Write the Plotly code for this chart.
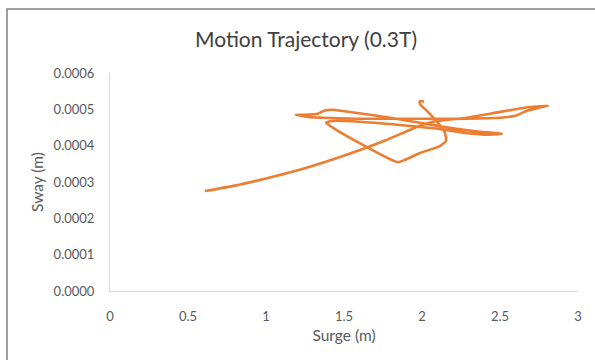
import plotly.graph_objects as go

# Surge / sway trajectory of the model at 0.3T (metres)
surge = [
    0.609, 0.801, 0.994, 1.186, 1.378, 1.571, 1.763, 1.987, 2.071, 2.288,
    2.500, 2.609, 2.712, 2.808, 2.744, 2.673, 2.596, 2.500, 2.288, 1.987,
    1.795, 1.583, 1.365, 1.269, 1.192, 1.250, 1.333, 1.372, 1.429, 1.583,
    1.795, 1.987, 2.179, 2.372, 2.513, 2.436, 2.276, 2.115, 1.859, 1.603,
    1.423, 1.385, 1.840, 1.891, 1.987, 2.115, 2.154, 2.147, 2.096, 2.038,
    1.987, 1.987, 2.013,
]
sway = [
    0.000275, 0.000290, 0.000309, 0.000330, 0.000355, 0.000383, 0.000414, 0.000455, 0.000466, 0.000477,
    0.000493, 0.000501, 0.000507, 0.000510, 0.000504, 0.000496, 0.000482, 0.000477, 0.000474, 0.000474,
    0.000474, 0.000474, 0.000477, 0.000479, 0.000485, 0.000485, 0.000488, 0.000496, 0.000499, 0.000490,
    0.000477, 0.000463, 0.000449, 0.000438, 0.000433, 0.000430, 0.000435, 0.000446, 0.000457, 0.000466,
    0.000468, 0.000463, 0.000355, 0.000361, 0.000380, 0.000399, 0.000413, 0.000435, 0.000466, 0.000493,
    0.000515, 0.000523, 0.000521,
]

x_ticks = [0, 0.5, 1, 1.5, 2, 2.5, 3]
y_ticks = [0.0, 0.0001, 0.0002, 0.0003, 0.0004, 0.0005, 0.0006]

FONT = "Lato"
TEXT = "#595959"
AXIS = "#d9d9d9"

fig = go.Figure()
fig.add_trace(go.Scatter(
    x=surge, y=sway, mode="lines",
    line=dict(color="#ED7D31", width=2.6, shape="spline", smoothing=0.5),
    hoverinfo="x+y", showlegend=False,
))

W, H = 595, 360
L, R, T, B = 110, 17, 73, 69
pw, ph = W - L - R, H - T - B


def px(x):
    return (x - L) / pw


def py(y):
    return (H - B - y) / ph


fig.update_layout(
    width=W, height=H,
    margin=dict(l=L, r=R, t=T, b=B),
    paper_bgcolor="white", plot_bgcolor="white",
    font=dict(family=FONT, color=TEXT, size=13),
    title=dict(
        text="Motion Trajectory (0.3T)",
        font=dict(family=FONT, size=21, color="#404040"),
        x=306 / W, xref="container", xanchor="center",
        y=1 - 40 / H, yref="container", yanchor="middle",
    ),
    xaxis=dict(
        range=[0, 3], tickvals=x_ticks, ticktext=[f"{v:g}" for v in x_ticks],
        showgrid=False, zeroline=False, showline=True, linecolor=AXIS, linewidth=1,
        ticks="", ticklabelstandoff=13,
        title=dict(text="Surge (m)", font=dict(size=15.5, color=TEXT), standoff=7),
    ),
    yaxis=dict(
        range=[0, 0.0006], tickvals=y_ticks, tickformat=".4f",
        showgrid=False, zeroline=False, showline=True, linecolor=AXIS, linewidth=1,
        ticks="", ticklabelstandoff=12,
        title=dict(text="Sway (m)", font=dict(size=15.5, color=TEXT), standoff=6),
    ),
    shapes=[
        dict(type="rect", xref="paper", yref="paper",
             x0=px(7), x1=px(602), y0=py(367), y1=py(9),
             line=dict(color="#808080", width=1.5), fillcolor="rgba(0,0,0,0)", layer="below"),
    ],
)

fig.write_html("out.html")
